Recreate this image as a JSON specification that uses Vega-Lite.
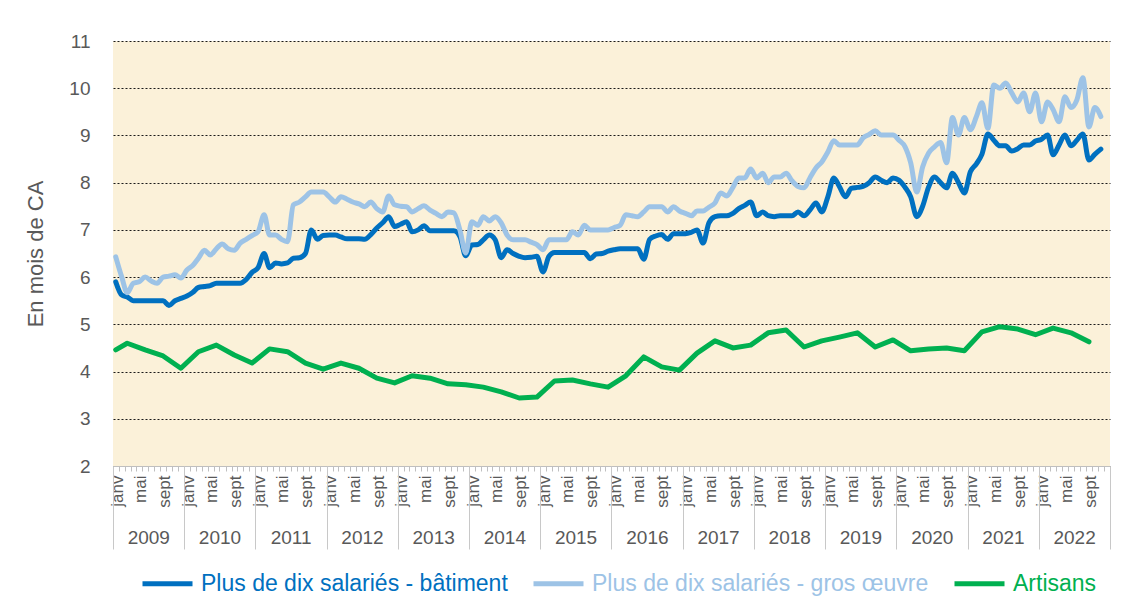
{
  "$schema": "https://vega.github.io/schema/vega-lite/v6.json",
  "width": 997,
  "height": 425,
  "autosize": "none",
  "padding": {"left": 113, "top": 41, "right": 20, "bottom": 139},
  "background": "white",
  "config": {
    "font": "Liberation Sans",
    "view": {"fill": "#FBF1D9", "stroke": null}
  },
  "datasets": {
    "monthly": [
      {"d":"2009-01-15","bat":5.9,"go":6.43},{"d":"2009-02-15","bat":5.62,"go":6.0},{"d":"2009-03-15","bat":5.58,"go":5.67},{"d":"2009-04-15","bat":5.5,"go":5.87},{"d":"2009-05-15","bat":5.5,"go":5.9},{"d":"2009-06-15","bat":5.5,"go":6.0},{"d":"2009-07-15","bat":5.5,"go":5.92},{"d":"2009-08-15","bat":5.5,"go":5.87},{"d":"2009-09-15","bat":5.5,"go":6.0},{"d":"2009-10-15","bat":5.4,"go":6.02},{"d":"2009-11-15","bat":5.5,"go":6.05},{"d":"2009-12-15","bat":5.55,"go":5.98},
      {"d":"2010-01-15","bat":5.6,"go":6.15},{"d":"2010-02-15","bat":5.68,"go":6.25},{"d":"2010-03-15","bat":5.78,"go":6.4},{"d":"2010-04-15","bat":5.8,"go":6.57},{"d":"2010-05-15","bat":5.82,"go":6.47},{"d":"2010-06-15","bat":5.87,"go":6.6},{"d":"2010-07-15","bat":5.87,"go":6.7},{"d":"2010-08-15","bat":5.87,"go":6.6},{"d":"2010-09-15","bat":5.87,"go":6.57},{"d":"2010-10-15","bat":5.87,"go":6.72},{"d":"2010-11-15","bat":5.95,"go":6.8},{"d":"2010-12-15","bat":6.1,"go":6.88},
      {"d":"2011-01-15","bat":6.2,"go":6.96},{"d":"2011-02-15","bat":6.5,"go":7.32},{"d":"2011-03-15","bat":6.2,"go":6.89},{"d":"2011-04-15","bat":6.3,"go":6.89},{"d":"2011-05-15","bat":6.28,"go":6.8},{"d":"2011-06-15","bat":6.3,"go":6.75},{"d":"2011-07-15","bat":6.4,"go":7.53},{"d":"2011-08-15","bat":6.41,"go":7.59},{"d":"2011-09-15","bat":6.5,"go":7.7},{"d":"2011-10-15","bat":7.0,"go":7.8},{"d":"2011-11-15","bat":6.8,"go":7.8},{"d":"2011-12-15","bat":6.88,"go":7.8},
      {"d":"2012-01-15","bat":6.89,"go":7.7},{"d":"2012-02-15","bat":6.89,"go":7.59},{"d":"2012-03-15","bat":6.85,"go":7.7},{"d":"2012-04-15","bat":6.81,"go":7.65},{"d":"2012-05-15","bat":6.81,"go":7.59},{"d":"2012-06-15","bat":6.81,"go":7.55},{"d":"2012-07-15","bat":6.8,"go":7.49},{"d":"2012-08-15","bat":6.9,"go":7.59},{"d":"2012-09-15","bat":7.04,"go":7.45},{"d":"2012-10-15","bat":7.15,"go":7.38},{"d":"2012-11-15","bat":7.28,"go":7.72},{"d":"2012-12-15","bat":7.07,"go":7.53},
      {"d":"2013-01-15","bat":7.12,"go":7.5},{"d":"2013-02-15","bat":7.17,"go":7.49},{"d":"2013-03-15","bat":6.96,"go":7.38},{"d":"2013-04-15","bat":7.0,"go":7.45},{"d":"2013-05-15","bat":7.09,"go":7.51},{"d":"2013-06-15","bat":6.98,"go":7.42},{"d":"2013-07-15","bat":6.98,"go":7.35},{"d":"2013-08-15","bat":6.98,"go":7.28},{"d":"2013-09-15","bat":6.98,"go":7.38},{"d":"2013-10-15","bat":6.98,"go":7.36},{"d":"2013-11-15","bat":6.86,"go":7.0},{"d":"2013-12-15","bat":6.45,"go":6.51},
      {"d":"2014-01-15","bat":6.68,"go":7.17},{"d":"2014-02-15","bat":6.69,"go":7.1},{"d":"2014-03-15","bat":6.79,"go":7.28},{"d":"2014-04-15","bat":6.89,"go":7.19},{"d":"2014-05-15","bat":6.79,"go":7.28},{"d":"2014-06-15","bat":6.41,"go":7.15},{"d":"2014-07-15","bat":6.58,"go":6.89},{"d":"2014-08-15","bat":6.5,"go":6.79},{"d":"2014-09-15","bat":6.44,"go":6.79},{"d":"2014-10-15","bat":6.41,"go":6.79},{"d":"2014-11-15","bat":6.42,"go":6.74},{"d":"2014-12-15","bat":6.44,"go":6.69},
      {"d":"2015-01-15","bat":6.11,"go":6.58},{"d":"2015-02-15","bat":6.44,"go":6.79},{"d":"2015-03-15","bat":6.52,"go":6.79},{"d":"2015-04-15","bat":6.52,"go":6.79},{"d":"2015-05-15","bat":6.52,"go":6.79},{"d":"2015-06-15","bat":6.52,"go":6.96},{"d":"2015-07-15","bat":6.52,"go":6.89},{"d":"2015-08-15","bat":6.52,"go":7.1},{"d":"2015-09-15","bat":6.39,"go":7.0},{"d":"2015-10-15","bat":6.49,"go":7.0},{"d":"2015-11-15","bat":6.5,"go":7.0},{"d":"2015-12-15","bat":6.55,"go":7.0},
      {"d":"2016-01-15","bat":6.58,"go":7.05},{"d":"2016-02-15","bat":6.6,"go":7.1},{"d":"2016-03-15","bat":6.6,"go":7.32},{"d":"2016-04-15","bat":6.6,"go":7.3},{"d":"2016-05-15","bat":6.6,"go":7.28},{"d":"2016-06-15","bat":6.38,"go":7.38},{"d":"2016-07-15","bat":6.8,"go":7.49},{"d":"2016-08-15","bat":6.87,"go":7.49},{"d":"2016-09-15","bat":6.9,"go":7.49},{"d":"2016-10-15","bat":6.8,"go":7.38},{"d":"2016-11-15","bat":6.92,"go":7.49},{"d":"2016-12-15","bat":6.92,"go":7.4},
      {"d":"2017-01-15","bat":6.92,"go":7.35},{"d":"2017-02-15","bat":6.95,"go":7.3},{"d":"2017-03-15","bat":7.0,"go":7.4},{"d":"2017-04-15","bat":6.72,"go":7.4},{"d":"2017-05-15","bat":7.15,"go":7.48},{"d":"2017-06-15","bat":7.28,"go":7.57},{"d":"2017-07-15","bat":7.3,"go":7.78},{"d":"2017-08-15","bat":7.3,"go":7.72},{"d":"2017-09-15","bat":7.35,"go":7.9},{"d":"2017-10-15","bat":7.45,"go":8.1},{"d":"2017-11-15","bat":7.52,"go":8.1},{"d":"2017-12-15","bat":7.59,"go":8.29},
      {"d":"2018-01-15","bat":7.3,"go":8.1},{"d":"2018-02-15","bat":7.38,"go":8.2},{"d":"2018-03-15","bat":7.3,"go":8.0},{"d":"2018-04-15","bat":7.28,"go":8.12},{"d":"2018-05-15","bat":7.3,"go":8.12},{"d":"2018-06-15","bat":7.3,"go":8.2},{"d":"2018-07-15","bat":7.3,"go":8.04},{"d":"2018-08-15","bat":7.38,"go":7.92},{"d":"2018-09-15","bat":7.3,"go":7.89},{"d":"2018-10-15","bat":7.42,"go":8.1},{"d":"2018-11-15","bat":7.57,"go":8.31},{"d":"2018-12-15","bat":7.38,"go":8.44},
      {"d":"2019-01-15","bat":7.7,"go":8.65},{"d":"2019-02-15","bat":8.1,"go":8.89},{"d":"2019-03-15","bat":7.92,"go":8.8},{"d":"2019-04-15","bat":7.7,"go":8.8},{"d":"2019-05-15","bat":7.88,"go":8.8},{"d":"2019-06-15","bat":7.9,"go":8.8},{"d":"2019-07-15","bat":7.92,"go":8.95},{"d":"2019-08-15","bat":8.0,"go":9.02},{"d":"2019-09-15","bat":8.12,"go":9.1},{"d":"2019-10-15","bat":8.05,"go":9.01},{"d":"2019-11-15","bat":8.0,"go":9.01},{"d":"2019-12-15","bat":8.1,"go":9.01},
      {"d":"2020-01-15","bat":8.05,"go":8.9},{"d":"2020-02-15","bat":7.9,"go":8.76},{"d":"2020-03-15","bat":7.7,"go":8.42},{"d":"2020-04-15","bat":7.28,"go":7.8},{"d":"2020-05-15","bat":7.5,"go":8.33},{"d":"2020-06-15","bat":7.91,"go":8.63},{"d":"2020-07-15","bat":8.12,"go":8.76},{"d":"2020-08-15","bat":8.0,"go":8.85},{"d":"2020-09-15","bat":7.89,"go":8.42},{"d":"2020-10-15","bat":8.2,"go":9.38},{"d":"2020-11-15","bat":8.0,"go":9.01},{"d":"2020-12-15","bat":7.78,"go":9.38},
      {"d":"2021-01-15","bat":8.23,"go":9.12},{"d":"2021-02-15","bat":8.4,"go":9.4},{"d":"2021-03-15","bat":8.6,"go":9.69},{"d":"2021-04-15","bat":9.03,"go":9.15},{"d":"2021-05-15","bat":8.9,"go":10.07},{"d":"2021-06-15","bat":8.78,"go":10.0},{"d":"2021-07-15","bat":8.78,"go":10.11},{"d":"2021-08-15","bat":8.67,"go":9.9},{"d":"2021-09-15","bat":8.72,"go":9.71},{"d":"2021-10-15","bat":8.8,"go":9.9},{"d":"2021-11-15","bat":8.8,"go":9.5},{"d":"2021-12-15","bat":8.88,"go":9.9},
      {"d":"2022-01-15","bat":8.92,"go":9.29},{"d":"2022-02-15","bat":9.01,"go":9.71},{"d":"2022-03-15","bat":8.59,"go":9.55},{"d":"2022-04-15","bat":8.8,"go":9.29},{"d":"2022-05-15","bat":9.01,"go":9.82},{"d":"2022-06-15","bat":8.78,"go":9.59},{"d":"2022-07-15","bat":8.9,"go":9.75},{"d":"2022-08-15","bat":9.03,"go":10.22},{"d":"2022-09-15","bat":8.48,"go":9.18},{"d":"2022-10-15","bat":8.6,"go":9.59},{"d":"2022-11-15","bat":8.71,"go":9.4}
    ],
    "art": [
      {"d":"2009-01-15","v":4.46},{"d":"2009-03-15","v":4.6},{"d":"2009-06-15","v":4.46},{"d":"2009-09-15","v":4.33},{"d":"2009-12-15","v":4.07},
      {"d":"2010-03-15","v":4.42},{"d":"2010-06-15","v":4.56},{"d":"2010-09-15","v":4.35},{"d":"2010-12-15","v":4.18},
      {"d":"2011-03-15","v":4.48},{"d":"2011-06-15","v":4.42},{"d":"2011-09-15","v":4.18},{"d":"2011-12-15","v":4.05},
      {"d":"2012-03-15","v":4.18},{"d":"2012-06-15","v":4.07},{"d":"2012-09-15","v":3.86},{"d":"2012-12-15","v":3.76},
      {"d":"2013-03-15","v":3.91},{"d":"2013-06-15","v":3.86},{"d":"2013-09-15","v":3.74},{"d":"2013-12-15","v":3.72},
      {"d":"2014-03-15","v":3.67},{"d":"2014-06-15","v":3.57},{"d":"2014-09-15","v":3.44},{"d":"2014-12-15","v":3.46},
      {"d":"2015-03-15","v":3.8},{"d":"2015-06-15","v":3.82},{"d":"2015-09-15","v":3.74},{"d":"2015-12-15","v":3.67},
      {"d":"2016-03-15","v":3.91},{"d":"2016-06-15","v":4.31},{"d":"2016-09-15","v":4.1},{"d":"2016-12-15","v":4.03},
      {"d":"2017-03-15","v":4.39},{"d":"2017-06-15","v":4.65},{"d":"2017-09-15","v":4.5},{"d":"2017-12-15","v":4.56},
      {"d":"2018-03-15","v":4.82},{"d":"2018-06-15","v":4.88},{"d":"2018-09-15","v":4.52},{"d":"2018-12-15","v":4.65},
      {"d":"2019-03-15","v":4.73},{"d":"2019-06-15","v":4.82},{"d":"2019-09-15","v":4.52},{"d":"2019-12-15","v":4.67},
      {"d":"2020-03-15","v":4.44},{"d":"2020-06-15","v":4.48},{"d":"2020-09-15","v":4.5},{"d":"2020-12-15","v":4.44},
      {"d":"2021-03-15","v":4.84},{"d":"2021-06-15","v":4.95},{"d":"2021-09-15","v":4.9},{"d":"2021-12-15","v":4.78},
      {"d":"2022-03-15","v":4.92},{"d":"2022-06-15","v":4.82},{"d":"2022-09-15","v":4.63}
    ]
  },
  "layer": [
    {
      "data": {"name": "monthly"},
      "mark": {"type": "line", "strokeWidth": 5, "interpolate": "monotone", "strokeCap": "round", "strokeJoin": "round"},
      "encoding": {
        "x": {
          "field": "d", "type": "temporal",
          "scale": {"type": "utc", "domain": [{"year": 2009, "month": 1, "date": 1, "utc": true}, {"year": 2023, "month": 1, "date": 1, "utc": true}]},
          "axis": {
            "orient": "bottom", "title": null, "grid": false,
            "tickCount": {"interval": "month", "step": 1},
            "labelExpr": "utcyear(datum.value) >= 2023 ? '' : utcmonth(datum.value) == 0 ? 'janv' : utcmonth(datum.value) == 4 ? 'mai' : utcmonth(datum.value) == 8 ? 'sept' : ''",
            "labelAngle": 270, "labelAlign": "right", "labelBaseline": "middle",
            "labelOffset": 4, "labelPadding": 4, "labelFontSize": 17, "labelColor": "#595959",
            "labelOverlap": false, "labelFlush": false, "labelBound": false,
            "ticks": true, "tickSize": 5, "tickColor": "#BFBFBF", "tickWidth": 1,
            "domain": true, "domainColor": "#BFBFBF", "domainWidth": 1
          }
        },
        "y": {
          "field": "bat", "type": "quantitative",
          "scale": {"domain": [2, 11], "nice": false, "zero": false},
          "axis": {"title": "En mois de CA", "values": [2,3,4,5,6,7,8,9,10,11], "grid": true, "gridColor": "#1a1a1a", "gridDash": [2, 2], "gridWidth": 1.2, "ticks": false, "domain": false, "labelFontSize": 19, "labelColor": "#595959", "labelPadding": 23, "titleFontSize": 22, "titleColor": "#595959", "titleFontWeight": "normal", "titlePadding": 21}
        },
        "color": {
          "datum": "Plus de dix salariés - bâtiment", "type": "nominal",
          "scale": {"domain": ["Plus de dix salariés - bâtiment", "Plus de dix salariés - gros œuvre", "Artisans"], "range": ["#0070C0", "#9DC3E6", "#00B050"]},
          "legend": {
            "orient": "none", "legendX": 27, "legendY": 515, "direction": "horizontal", "title": null,
            "symbolType": "stroke", "symbolStrokeWidth": 5, "symbolSize": 2500,
            "labelFontSize": 23, "labelOffset": 6, "columnPadding": 15, "labelLimit": 600, "padding": 0,
            "encode": {"labels": {"update": {"fill": {"scale": "color", "field": "value"}}}}
          }
        }
      }
    },
    {
      "data": {"name": "monthly"},
      "mark": {"type": "line", "strokeWidth": 5, "interpolate": "monotone", "strokeCap": "round", "strokeJoin": "round"},
      "encoding": {
        "x": {
          "field": "d", "type": "temporal",
          "axis": {
            "orient": "bottom", "title": null, "grid": false, "ticks": false, "domain": false,
            "values": [
              {"year": 2009, "month": 7, "date": 1, "utc": true},{"year": 2010, "month": 7, "date": 1, "utc": true},{"year": 2011, "month": 7, "date": 1, "utc": true},{"year": 2012, "month": 7, "date": 1, "utc": true},{"year": 2013, "month": 7, "date": 1, "utc": true},{"year": 2014, "month": 7, "date": 1, "utc": true},{"year": 2015, "month": 7, "date": 1, "utc": true},{"year": 2016, "month": 7, "date": 1, "utc": true},{"year": 2017, "month": 7, "date": 1, "utc": true},{"year": 2018, "month": 7, "date": 1, "utc": true},{"year": 2019, "month": 7, "date": 1, "utc": true},{"year": 2020, "month": 7, "date": 1, "utc": true},{"year": 2021, "month": 7, "date": 1, "utc": true},{"year": 2022, "month": 7, "date": 1, "utc": true}
            ],
            "labelExpr": "utcFormat(datum.value, '%Y')",
            "labelAngle": 0, "labelPadding": 62, "labelFontSize": 19, "labelColor": "#595959",
            "labelOverlap": false, "labelFlush": false, "labelBound": false
          }
        },
        "y": {
          "field": "go", "type": "quantitative",
          "axis": {"title": "En mois de CA", "values": [2,3,4,5,6,7,8,9,10,11], "grid": true, "gridColor": "#1a1a1a", "gridDash": [2, 2], "gridWidth": 1.2, "ticks": false, "domain": false, "labelFontSize": 19, "labelColor": "#595959", "labelPadding": 23, "titleFontSize": 22, "titleColor": "#595959", "titleFontWeight": "normal", "titlePadding": 21}
        },
        "color": {"datum": "Plus de dix salariés - gros œuvre", "type": "nominal"}
      }
    },
    {
      "data": {"name": "art"},
      "mark": {"type": "line", "strokeWidth": 5, "strokeCap": "round", "strokeJoin": "round"},
      "encoding": {
        "x": {
          "field": "d", "type": "temporal",
          "axis": {
            "orient": "bottom", "title": null, "grid": false, "labels": false, "domain": false,
            "values": [
              {"year": 2009, "month": 1, "date": 1, "utc": true},{"year": 2010, "month": 1, "date": 1, "utc": true},{"year": 2011, "month": 1, "date": 1, "utc": true},{"year": 2012, "month": 1, "date": 1, "utc": true},{"year": 2013, "month": 1, "date": 1, "utc": true},{"year": 2014, "month": 1, "date": 1, "utc": true},{"year": 2015, "month": 1, "date": 1, "utc": true},{"year": 2016, "month": 1, "date": 1, "utc": true},{"year": 2017, "month": 1, "date": 1, "utc": true},{"year": 2018, "month": 1, "date": 1, "utc": true},{"year": 2019, "month": 1, "date": 1, "utc": true},{"year": 2020, "month": 1, "date": 1, "utc": true},{"year": 2021, "month": 1, "date": 1, "utc": true},{"year": 2022, "month": 1, "date": 1, "utc": true},{"year": 2023, "month": 1, "date": 1, "utc": true}
            ],
            "ticks": true, "tickSize": 83, "tickColor": "#C8C8C8", "tickWidth": 1
          }
        },
        "y": {
          "field": "v", "type": "quantitative",
          "axis": {"title": "En mois de CA", "values": [2,3,4,5,6,7,8,9,10,11], "grid": true, "gridColor": "#1a1a1a", "gridDash": [2, 2], "gridWidth": 1.2, "ticks": false, "domain": false, "labelFontSize": 19, "labelColor": "#595959", "labelPadding": 23, "titleFontSize": 22, "titleColor": "#595959", "titleFontWeight": "normal", "titlePadding": 21}
        },
        "color": {"datum": "Artisans", "type": "nominal"}
      }
    }
  ],
  "resolve": {"axis": {"x": "independent"}}
}
